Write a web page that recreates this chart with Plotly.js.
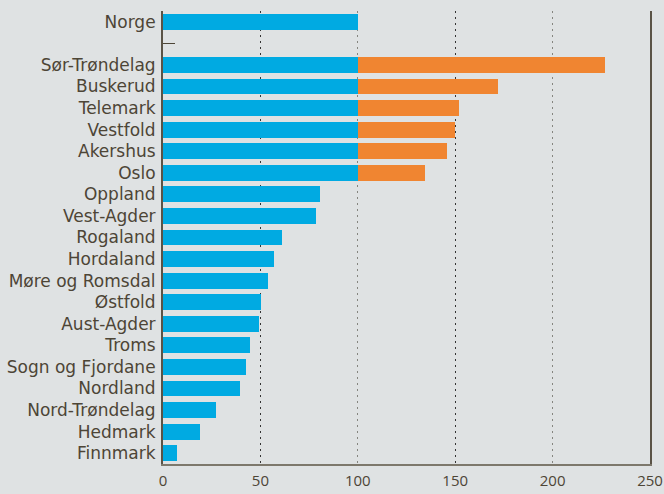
<!DOCTYPE html>
<html><head><meta charset="utf-8">
<script src="https://cdn.plot.ly/plotly-3.0.1.min.js"></script>
<style>html,body{margin:0;padding:0;background:#dfe2e3;}</style>
</head><body>
<div id="chart" style="width:664px;height:494px;"></div>
<script>
const categories = ["Norge", " ", "Sør-Trøndelag", "Buskerud", "Telemark", "Vestfold", "Akershus", "Oslo",
  "Oppland", "Vest-Agder", "Rogaland", "Hordaland", "Møre og Romsdal", "Østfold", "Aust-Agder",
  "Troms", "Sogn og Fjordane", "Nordland", "Nord-Trøndelag", "Hedmark", "Finnmark"];
const values = [100, null, 227, 172, 152, 150, 146, 134.5,
  80.6, 78.5, 61, 57, 54, 50.3, 49.3, 44.7, 42.6, 39.5, 27.2, 19, 7.2];
const xTicks = [0, 50, 100, 150, 200, 250];

const base = values.map(v => v == null ? null : Math.min(v, 100));
const excess = values.map(v => v == null ? null : (v > 100 ? v - 100 : 0));

const fontFam = "'Open Sans', Lato, sans-serif";
const txt = "#4d4536";

const traces = [
  {type: "bar", orientation: "h", y: categories, x: base, marker: {color: "#00aae2"},
   hoverinfo: "skip", width: 0.74},
  {type: "bar", orientation: "h", y: categories, x: excess, marker: {color: "#f08531"},
   hoverinfo: "skip", width: 0.74},
  {type: "scatter", x: [null], y: [null], xaxis: "x2", showlegend: false, hoverinfo: "skip"},
  {type: "scatter", x: [null], y: [null], xaxis: "x3", showlegend: false, hoverinfo: "skip"}
];

const gridCommon = {range: [0, 250], overlaying: "x", side: "bottom", showgrid: true,
  griddash: "2px,4px", gridwidth: 1.3, showticklabels: false, zeroline: false,
  showline: false, ticks: "", layer: "below traces"};

const layout = {
  width: 664, height: 494,
  margin: {l: 163, r: 14, t: 11, b: 30},
  paper_bgcolor: "#dfe2e3", plot_bgcolor: "#dfe2e3",
  barmode: "stack", showlegend: false,
  font: {family: fontFam, color: txt},
  xaxis: {range: [0, 250], tickvals: xTicks, ticktext: xTicks.map(String),
    showgrid: false, zeroline: false, showline: true, linecolor: "#7d786c", linewidth: 2,
    ticks: "", tickfont: {size: 15, color: txt}, ticklabelstandoff: 2, layer: "below traces"},
  xaxis2: Object.assign({}, gridCommon, {tick0: 50, dtick: 100, gridcolor: "#333333"}),
  xaxis3: Object.assign({}, gridCommon, {tick0: 0, dtick: 100, gridcolor: "#85857f"}),
  yaxis: {type: "category", autorange: "reversed", categoryorder: "array", categoryarray: categories,
    tickmode: "array", tickvals: categories, ticktext: categories,
    showline: true, mirror: true, linecolor: "#5a5346", linewidth: 2,
    ticks: "inside", ticklen: 12, tickcolor: "#4d4536", tickwidth: 1.6,
    tickfont: {size: 17, color: txt, family: "'DejaVu Sans', sans-serif"},
    ticklabelstandoff: 2, showgrid: false, zeroline: false,
    layer: "below traces"}
};

Plotly.newPlot("chart", traces, layout, {displayModeBar: false, staticPlot: true});
</script>
</body></html>
